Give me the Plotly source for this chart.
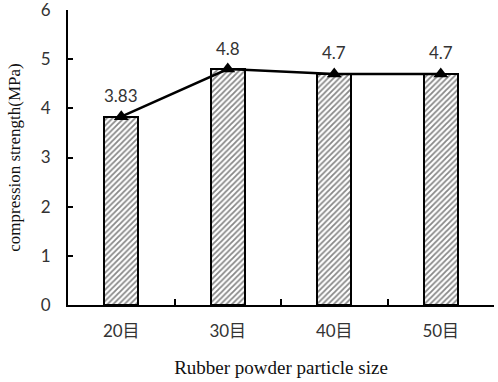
import plotly.graph_objects as go

categories = ["20目", "30目", "40目", "50目"]
strength = [3.83, 4.8, 4.7, 4.7]
labels = ["3.83", "4.8", "4.7", "4.7"]
yticks = [0, 1, 2, 3, 4, 5, 6]

tick_font = dict(family="Lato, 'Noto Sans CJK SC', sans-serif", size=17, color="#333")
xtitle_font = dict(family="'Liberation Serif', 'Times New Roman', serif", size=19, color="#111")
ytitle_font = dict(family="'Liberation Serif', 'Times New Roman', serif", size=17, color="#111")

fig = go.Figure()
fig.add_trace(go.Bar(
    x=categories, y=strength, width=0.32,
    marker=dict(color="white", line=dict(color="black", width=2),
                pattern=dict(shape="/", fgcolor="#111", bgcolor="white", size=4, solidity=0.45)),
    showlegend=False, hoverinfo="skip",
))
fig.add_trace(go.Scatter(
    x=categories, y=strength, mode="lines+markers",
    line=dict(color="black", width=2.5),
    marker=dict(symbol="triangle-up", size=13, color="black"),
    showlegend=False, cliponaxis=False, hoverinfo="skip",
))
for c, v, t in zip(categories, strength, labels):
    fig.add_annotation(x=c, y=v, text=t, showarrow=False, yshift=21,
                       font=dict(family="Lato, sans-serif", size=17, color="#333"))
fig.update_layout(
    width=498, height=382,
    margin=dict(l=68, r=4, t=10, b=77),
    paper_bgcolor="white", plot_bgcolor="white",
    bargap=0,
)
fig.update_xaxes(
    automargin=False, ticklabelstandoff=10,
    showline=True, linecolor="black", linewidth=2,
    ticks="inside", ticklen=6, tickcolor="black", tickwidth=1.5,
    tickson="boundaries", tickfont=tick_font,
    title=dict(text="Rubber powder particle size", font=xtitle_font, standoff=20),
    showgrid=False,
)
fig.update_yaxes(
    automargin=False, ticklabeloverflow="allow", ticklabelstandoff=12,
    range=[0, 6], tickvals=yticks, showline=True, linecolor="black", linewidth=2,
    ticks="inside", ticklen=5, tickcolor="black", tickwidth=1.5,
    tickfont=tick_font, showgrid=False, zeroline=False,
    title=dict(text="compression strength(MPa)", font=ytitle_font, standoff=16),
)
fig.write_html("out.html", config={"displayModeBar": False},
               post_script="document.body.style.margin='0px';")
